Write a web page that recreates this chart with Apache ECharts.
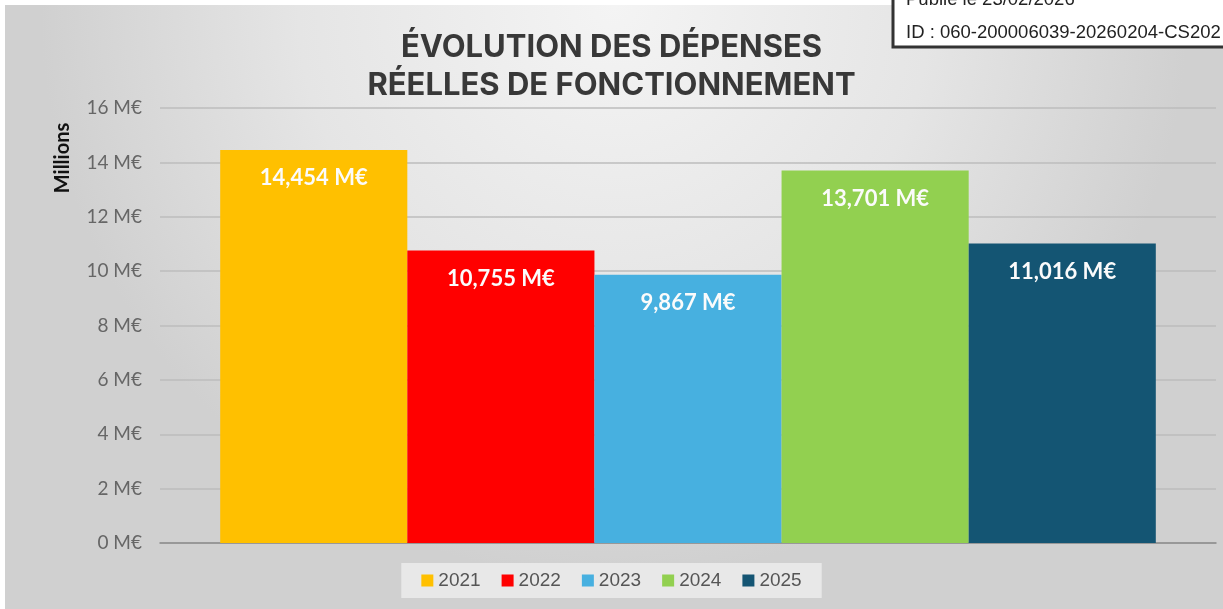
<!DOCTYPE html>
<html>
<head>
<meta charset="utf-8">
<script src="https://cdn.jsdelivr.net/npm/echarts@6/dist/echarts.min.js"></script>
<style>
  html, body { margin: 0; padding: 0; background: #fff; }
  #main { width: 1223px; height: 609px; }
</style>
</head>
<body>
<div id="main"></div>
<script>
var years = ['2021', '2022', '2023', '2024', '2025'];
var depenses = [14.454, 10.755, 9.867, 13.701, 11.016];
var couleurs = ['#ffc000', '#ff0000', '#47b0e0', '#92d050', '#145573'];
var yTicks = [0, 2, 4, 6, 8, 10, 12, 14, 16];

var chart = echarts.init(document.getElementById('main'));

// une série par année, barGap 0 pour coller les barres
var series = years.map(function (y, i) {
  return {
    name: y,
    type: 'bar',
    data: [depenses[i]],
    barGap: '0%',
    barCategoryGap: '11.4%',
    itemStyle: { color: couleurs[i] },
    label: {
      show: true,
      position: 'insideTop',
      distance: 17,
      color: '#fbfbfb',
      fontFamily: 'Lato',
      fontWeight: 'bold',
      fontSize: 22,
      formatter: function (p) {
        return p.value.toFixed(3).replace('.', ',') + ' M€';
      }
    }
  };
});

var option = {
  backgroundColor: '#fff',
  animation: false,
  graphic: [
    {
      type: 'rect', z: -10, silent: true,
      shape: { x: 5, y: 5, width: 1218, height: 604 },
      style: {
        fill: {
          type: 'radial', x: 0.5, y: 0.0, r: 0.95,
          colorStops: [
            { offset: 0, color: '#f4f4f4' },
            { offset: 0.55, color: '#e5e5e5' },
            { offset: 1, color: '#d0d0d0' }
          ]
        }
      }
    },
    {
      type: 'text', x: 63, y: 158, rotation: Math.PI / 2,
      style: { text: 'Millions', fill: '#111', font: 'bold 20px Lato', align: 'center', verticalAlign: 'middle' }
    },
    {
      type: 'rect', z: 100,
      shape: { x: 893, y: -5, width: 340, height: 52 },
      style: { fill: '#fff', stroke: '#333', lineWidth: 3 }
    },
    {
      type: 'text', z: 101,
      style: { x: 906, y: 0, text: 'Publié le 23/02/2026', fill: '#222', font: '18.5px "Liberation Sans"', verticalAlign: 'middle' }
    },
    {
      type: 'text', z: 101,
      style: { x: 906, y: 33, text: 'ID : 060-200006039-20260204-CS202', fill: '#222', font: '18.5px "Liberation Sans"', verticalAlign: 'middle' }
    }
  ],
  title: {
    text: 'ÉVOLUTION DES DÉPENSES\nRÉELLES DE FONCTIONNEMENT',
    left: 'center',
    top: 24,
    textStyle: {
      fontFamily: 'Inter',
      fontWeight: 'bold',
      fontSize: 31,
      lineHeight: 38,
      color: '#383838'
    }
  },
  legend: {
    bottom: 11,
    left: 'center',
    itemWidth: 12,
    itemHeight: 12,
    itemGap: 21,
    icon: 'rect',
    padding: [8, 20],
    backgroundColor: 'rgba(236,236,236,0.85)',
    textStyle: { fontFamily: 'Liberation Sans', fontSize: 19, color: '#555' },
    data: years
  },
  grid: { left: 160, right: 7, top: 108, bottom: 66 },
  xAxis: {
    type: 'category',
    data: [''],
    axisLine: { lineStyle: { color: '#8a8a8a', width: 1.5 } },
    axisTick: { show: false },
    axisLabel: { show: false }
  },
  yAxis: {
    type: 'value',
    min: yTicks[0],
    max: yTicks[yTicks.length - 1],
    interval: 2,
    axisLine: { show: false },
    axisTick: { show: false },
    splitLine: { lineStyle: { color: '#bdbdbd', width: 1.5 } },
    axisLabel: {
      margin: 18,
      color: '#666',
      fontFamily: 'Lato',
      fontSize: 19,
      formatter: function (v) { return v + ' M€'; }
    }
  },
  series: series
};

chart.setOption(option);
</script>
</body>
</html>
